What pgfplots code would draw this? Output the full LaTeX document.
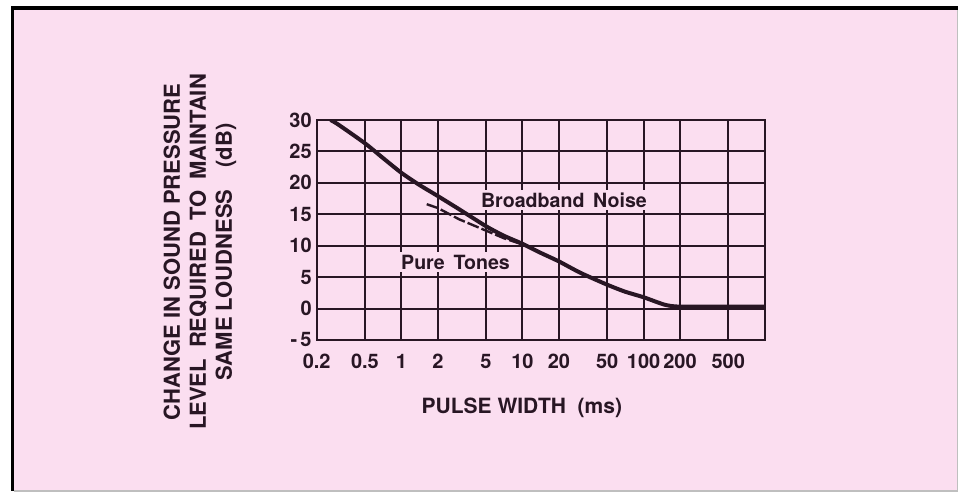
\documentclass[border=0pt]{standalone}
\usepackage{pgfplots}
\pgfplotsset{compat=1.18}
\usepackage{fontspec}
\setmainfont{TeX Gyre Heros}
\definecolor{bgpink}{RGB}{251,222,240}
\definecolor{ink}{RGB}{40,22,36}
\begin{document}
\begin{tikzpicture}
\fill[white] (0,0) rectangle (483pt,248pt);
\fill[bgpink] (7pt,3pt) rectangle (478.5pt,243.5pt);
\draw[gray!50, line width=0.8pt] (478.8pt,244pt) -- (478.8pt,2.6pt) -- (7pt,2.6pt);
\draw[black, line width=1.8pt] (6.3pt,2.6pt) -- (6.3pt,244pt) -- (478.8pt,244pt);
\begin{axis}[
  at={(158.35pt,78pt)}, anchor=south west,
  scale only axis, width=224pt, height=110pt,
  xmode=log, log basis x=10,
  xmin=0.2, xmax=1000, ymin=-5, ymax=30,
  xtick={0.2,0.5,1,2,5,10,20,50,100,200,500},
  xticklabels={0.2,0.5,1,2,5,10,20,50,100\hspace{4pt},200\hspace{2pt},500\hspace{2pt}},
  ytick={-5,0,5,10,15,20,25,30},
  yticklabels={-\,5,0,5,10,15,20,25,30},
  grid=major,
  major grid style={line width=1pt, ink},
  axis line style={line width=1pt, ink},
  major tick length=0pt, minor tick length=0pt,
  ticklabel style={font=\fontsize{10}{12}\selectfont\bfseries, text=ink},
  xticklabel style={yshift=-3.5pt},
  yticklabel style={xshift=1pt},
  xlabel={PULSE WIDTH\ \ (ms)},
  xlabel style={at={(axis description cs:0.458,-0.309)}, anchor=center,
    font=\fontsize{10.5}{12}\selectfont\bfseries, text=ink},
  ylabel={CHANGE IN SOUND PRESSURE\\LEVEL\hspace{0.5em}REQUIRED\hspace{0.5em}TO\hspace{0.5em}MAINTAIN\\SAME LOUDNESS\hspace{1em}(dB)},
  ylabel style={at={(axis description cs:-0.2605,0.40)}, anchor=center, align=center,
    font=\fontsize{11}{13}\selectfont\bfseries, text=ink},
  clip=true,
]
% Pure tones (dashed)
\addplot[ink, line width=1.2pt, dash pattern=on 6pt off 1.5pt] coordinates {
  (1.62,16.6) (2,16.0) (3,14.2) (5,12.4) (7,11.2) (10,10.2) (12,9.6)
};
% Broadband noise
\addplot[ink, line width=2pt, smooth, tension=0.4] coordinates {
  (0.26,30) (0.3,29.3) (0.5,26.3) (0.7,24.0) (1,21.6) (1.4,19.7) (2,17.9)
  (3,15.8) (5,13.1) (7,11.6) (10,10.3) (14,8.9) (20,7.5) (30,5.7) (50,3.8)
  (70,2.7) (100,1.8) (130,1.0) (150,0.6) (170,0.4) (200,0.3) (300,0.3)
  (500,0.3) (1000,0.3)
};
\node[fill=bgpink, inner sep=1.5pt, font=\fontsize{9.8}{12}\selectfont\bfseries, text=ink] at (axis cs:22,17.27) {Broadband\ \,Noise};
\node[fill=bgpink, inner sep=1.5pt, font=\fontsize{9.8}{12}\selectfont\bfseries, text=ink] at (axis cs:2.8,7.4) {Pure\ \,Tones};
\end{axis}
\end{tikzpicture}
\end{document}
